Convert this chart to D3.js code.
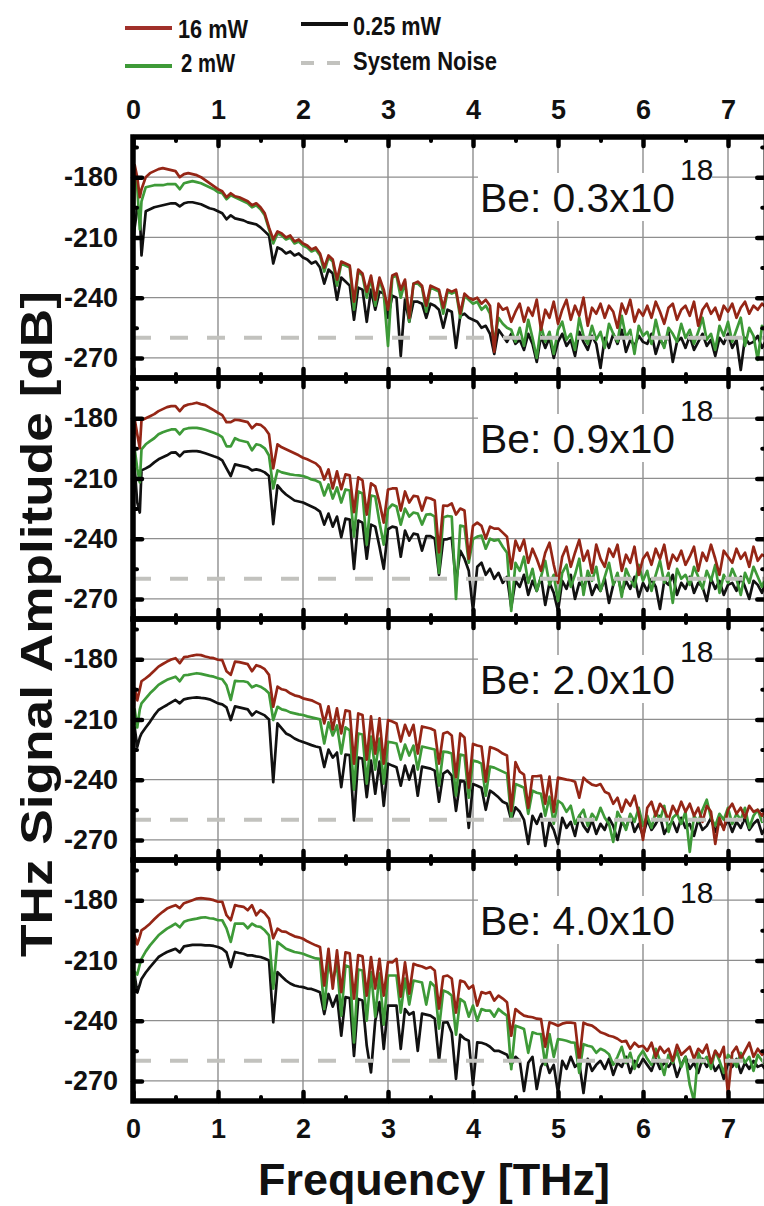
<!DOCTYPE html>
<html><head><meta charset="utf-8">
<script src="https://cdn.jsdelivr.net/npm/d3@7"></script>
<style>body{margin:0;background:#fff}svg{display:block}</style>
</head><body>
<svg id="chart" width="764" height="1206"></svg>
<script>
// ---------- DATA ----------
const freq = [0,0.02,0.05,0.08,0.1,
0.15,0.2,0.25,0.3,0.35,0.4,0.45,0.5,
0.55,0.6,0.65,0.7,0.75,0.8,0.85,0.9,0.95,1,
1.05,1.1,1.15,1.2,1.25,1.3,1.35,1.4,1.45,1.5,
1.55,1.6,1.65,1.7,1.75,1.8,1.85,1.9,1.95,2,
2.05,2.1,2.15,2.2,2.25,2.3,2.35,2.4,2.45,2.5,
2.55,2.6,2.65,2.7,2.75,2.8,2.85,2.9,2.95,3,
3.05,3.1,3.15,3.2,3.25,3.3,3.35,3.4,3.45,3.5,
3.55,3.6,3.65,3.7,3.75,3.8,3.85,3.9,3.95,4,
4.05,4.1,4.15,4.2,4.25,4.3,4.35,4.4,4.45,4.5,
4.55,4.6,4.65,4.7,4.75,4.8,4.85,4.9,4.95,5,
5.05,5.1,5.15,5.2,5.25,5.3,5.35,5.4,5.45,5.5,
5.55,5.6,5.65,5.7,5.75,5.8,5.85,5.9,5.95,6,
6.05,6.1,6.15,6.2,6.25,6.3,6.35,6.4,6.45,6.5,
6.55,6.6,6.65,6.7,6.75,6.8,6.85,6.9,6.95,7,
7.05,7.1,7.15,7.2,7.25,7.3,7.35,7.4,7.45];

const seriesNames = ["16 mW", "2 mW", "0.25 mW", "System Noise"];
const panelLabels = ["0.3", "0.9", "2.0", "4.0"];
const xTicks = [0,1,2,3,4,5,6,7];
const xMinor = [0.5,1.5,2.5,3.5,4.5,5.5,6.5];
const yTicks = [-180,-210,-240,-270];
const yMinor = [-165,-195,-225,-255];
const noiseLevel = -260;

// Be: 0.3e18
const red1 = [-211,-174,-180,-190,-186,
-180,-178,-177,-176,-175.5,-176,-176.5,-177,
-180,-178.5,-178,-178.5,-179,-180,-181.5,-183,-184.5,-186,
-187,-190,-188,-189.5,-190,-191,-192,-194,-193,-195,
-198,-205,-211,-207,-208,-210,-209,-212,-211,-213,
-214,-216,-215,-218,-225,-219,-221,-231,-222,-223,
-224,-242,-226,-228,-237,-229,-241,-230,-236,-246,
-229,-228,-236,-231,-250,-233,-232,-234,-244,-234,
-235,-236,-245,-236,-237,-236,-248,-238,-240,-241,
-240,-243,-241,-244,-267,-243,-246,-245,-252,-247,
-243,-252,-245,-249,-241,-256,-246,-250,-242,-253,
-246,-241,-251,-244,-249,-240,-254,-245,-248,-243,
-250,-244,-247,-255,-243,-248,-241,-252,-246,-249,
-244,-250,-242,-247,-253,-245,-243,-251,-246,-244,
-249,-242,-254,-246,-243,-248,-245,-251,-244,-247,
-243,-250,-245,-242,-248,-244,-246,-243,-245];
const green1 = [-213,-177,-185,-206,-192,
-185,-184.5,-184,-184,-184,-183.5,-183.5,-183.5,
-186,-183,-182.5,-182,-182.5,-183,-184,-185,-186,-187.5,
-188,-191,-189,-190,-191,-192,-193,-195,-194,-196,
-199,-206,-213,-208,-209,-211,-210,-213,-212,-214,
-215,-217,-216,-219,-227,-220,-222,-234,-223,-224,
-225,-246,-227,-229,-240,-230,-244,-231,-238,-264,
-230,-229,-240,-232,-252,-233,-233,-235,-247,-235,
-236,-237,-248,-237,-238,-237,-250,-239,-241,-243,
-242,-246,-244,-248,-262,-250,-253,-255,-256,-262,
-255,-264,-251,-260,-270,-254,-262,-257,-268,-256,
-252,-261,-258,-266,-250,-259,-263,-254,-261,-257,
-265,-253,-258,-262,-249,-260,-256,-268,-254,-259,
-257,-263,-251,-260,-265,-255,-258,-262,-253,-260,
-256,-263,-257,-250,-261,-258,-266,-254,-259,-252,
-262,-256,-250,-264,-255,-259,-271,-254,-257];
const black1 = [-215,-205,-196,-198,-219,
-197,-196,-195,-194.5,-194,-193.5,-193,-193,
-194.5,-193,-192.5,-192.5,-193,-193.5,-194.5,-195.5,-196,-197,
-198,-201,-199,-200.5,-201,-201.5,-202.5,-203,-203.5,-205,
-207,-209,-223,-215,-216,-218,-217,-219,-218,-220,
-221,-223,-222,-225,-233,-226,-228,-241,-230,-232,
-234,-251,-235,-236,-252,-236,-246,-237,-238,-250,
-239,-240,-269,-241,-252,-242,-242,-243,-250,-243,
-244,-246,-255,-246,-247,-265,-249,-248,-250,-251,
-252,-255,-254,-258,-268,-256,-259,-262,-258,-263,
-261,-266,-258,-263,-272,-259,-265,-260,-270,-262,
-258,-264,-261,-269,-257,-262,-266,-259,-263,-275,
-260,-265,-258,-263,-256,-267,-261,-264,-259,-262,
-263,-258,-268,-261,-264,-257,-272,-262,-260,-265,
-259,-266,-262,-258,-264,-261,-269,-260,-263,-258,
-265,-261,-276,-260,-263,-262,-259,-265,-261];

// Be: 0.9e18
const red2 = [-212,-180.5,-188,-195,-181,
-180,-179,-178,-176.5,-175.5,-174.5,-174,-174,
-176.5,-174,-173.2,-172.8,-172.3,-173,-173.5,-174.8,-176,-177.3,
-178.5,-182,-182,-180.8,-181,-181.5,-182,-185,-183,-183.3,
-185,-188,-205,-193,-194.5,-195.5,-196.5,-197.5,-198.5,-199.7,
-200.5,-201.5,-202.5,-204.6,-210.5,-205.5,-215,-206.5,-215.4,-208,
-208.5,-226.8,-209.5,-211,-228,-212.5,-214,-222,-232,-215.5,
-215,-215,-226,-216.5,-222,-218.7,-219,-226,-219.5,-220,
-221,-246.8,-223.5,-223.7,-222.5,-228,-225,-226,-250,-233.6,
-232,-233.6,-240,-234,-235,-235,-237,-239,-255,-241,
-246,-240.5,-252,-245,-250,-256,-247,-242,-253,-262,
-249,-244,-254,-247,-240.6,-251,-246,-257,-243,-250,
-254,-245,-249,-243,-256,-248,-252,-244,-258,-250,
-247,-253,-245,-250,-243,-255,-248,-251,-246,-253,
-249,-244,-256,-247,-251,-243,-250,-258,-246,-249,
-252,-245,-250,-247,-254,-244,-251,-248,-249];
const green2 = [-222,-195.5,-205,-212,-195.5,
-193,-191.4,-190,-188,-187,-186.3,-185.6,-185.6,
-188,-185.5,-185,-184.8,-184.8,-185.2,-185.8,-186.5,-187.3,-188.1,
-189.5,-194,-194,-190,-191,-191.5,-192,-196,-193,-193.5,
-195,-198.6,-215,-206,-207,-207.5,-208,-208.3,-208.5,-208.8,
-209.5,-210.5,-211,-212,-218.5,-213,-220,-214.5,-222,-215.5,
-216,-239,-216.5,-217.5,-243,-218.5,-219,-232,-243,-225.3,
-223,-224,-233,-225,-229,-227,-227.5,-233,-228,-227.8,
-229,-257,-229.5,-228.7,-229,-270,-233.5,-234,-252,-240.2,
-239,-238.5,-245,-240,-241,-240.5,-244,-247,-276,-252,
-256,-249,-262,-255,-266,-259,-251,-263,-258,-271,
-257,-253,-264,-258,-250,-268,-256,-261,-254,-266,
-259,-252,-263,-257,-269,-255,-260,-264,-253,-261,
-256,-266,-258,-251,-262,-257,-272,-255,-260,-258,
-263,-254,-259,-265,-256,-261,-253,-267,-258,-262,
-255,-260,-268,-257,-262,-254,-259,-264,-258];
const black2 = [-225,-205,-222,-227,-206,
-205,-203.8,-202,-200.5,-199.5,-198.5,-197.2,-197,
-199,-196.8,-196.5,-196.4,-196.4,-196.8,-197.5,-198.2,-199,-199.7,
-201,-205,-208.8,-203,-203.5,-204,-204.5,-206,-205.5,-206,
-207,-208.8,-232.8,-213.5,-216,-218,-219.5,-221,-221.5,-222,
-223,-224,-225,-226.5,-233,-227.5,-234,-229,-239.3,-230,
-230.5,-255,-231,-232,-250,-233,-234,-244,-255,-235.3,
-234,-234.5,-249,-236,-241,-237.5,-238,-246,-238.7,-238.7,
-240,-258,-240.5,-240.2,-239.5,-262,-246,-250,-256,-276,
-254,-252,-258,-255,-260,-257,-262,-259,-274,-261,
-264,-258,-268,-261,-266,-259,-273,-262,-267,-276,
-261,-265,-258,-270,-262,-264,-259,-268,-263,-266,
-260,-272,-263,-258,-267,-261,-265,-259,-269,-262,
-266,-260,-264,-275,-261,-263,-258,-268,-262,-265,
-259,-267,-262,-264,-271,-260,-265,-261,-268,-263,
-262,-266,-259,-264,-270,-261,-263,-267,-260];

// Be: 2.0e18
const red3 = [-210,-194.5,-200.5,-195,-191,
-189.5,-187.8,-185.8,-183.7,-182.4,-181.2,-180.2,-179.5,
-182,-179,-178.7,-178.2,-177.8,-178,-178.7,-179.2,-179.5,-180.3,
-180.5,-186,-187.8,-181.2,-181.5,-182,-182.5,-186,-183,-183.7,
-185,-187.8,-203.7,-193.7,-195,-195.5,-197,-198,-198.5,-199.5,
-200,-200.5,-201.5,-202.5,-212,-203.5,-215,-204.5,-217,-205.5,
-206,-232,-207,-207.8,-230,-208.5,-227,-209.5,-232,-210.3,
-211,-212,-221,-212.7,-218,-212.7,-227,-213.5,-214,-214.5,
-215.5,-232,-217,-216.3,-218,-238.8,-217,-219,-244,-222.2,
-223,-223.5,-241,-223.8,-224.5,-225.5,-227,-228,-255.5,-231.3,
-236,-237.5,-254,-238.3,-238.3,-238,-252,-238.5,-256,-239,
-239.5,-240,-240.3,-241,-249,-239,-241,-242.5,-243,-242.2,
-246,-247,-252,-249,-256,-250,-253,-248,-257,-270,
-254,-251,-258,-252,-255,-260,-253,-257,-251,-256,
-252,-258,-254,-261,-253,-256,-272,-259,-265,-255,
-252,-257,-254,-259,-253,-256,-255,-258,-254];
const green3 = [-225,-205,-214,-205,-202,
-199.5,-197,-195,-192.8,-191.5,-190.3,-189.5,-188.7,
-191,-188,-187.8,-187.4,-187,-187.3,-187.8,-188.3,-188.7,-189.5,
-190,-193,-200.3,-190.8,-191,-191,-191.5,-194,-193,-193.7,
-195,-197,-210.3,-203.7,-205,-205.5,-206.5,-207,-207.5,-207.8,
-208.5,-209,-209.5,-210,-222,-211.5,-218,-213,-227,-214,
-215.5,-245,-217,-217.5,-242,-218.5,-235,-219.5,-242,-221.2,
-221.5,-222,-230,-222.5,-228,-223,-235,-223.5,-224,-224.5,
-225,-243,-226,-226.3,-227,-248,-227.5,-228,-249,-230.5,
-231,-232,-248,-233.5,-234,-235,-236,-237,-259,-242.2,
-243,-244,-257,-245.5,-246.5,-247,-258,-248.5,-262,-250.5,
-252,-256,-253,-262,-258,-255,-263,-257,-260,-254,
-259,-262,-271,-256,-260,-265,-257,-261,-254,-263,
-258,-264,-256,-260,-253,-266,-259,-257,-262,-256,
-276,-258,-261,-255,-250,-259,-263,-257,-260,-254,
-262,-257,-260,-254,-264,-258,-255,-261,-257];
const black3 = [-227,-214,-223.7,-219,-217,
-214,-211.2,-208,-205.3,-204,-202.8,-201.5,-200.3,
-202,-200,-199.5,-199.2,-199,-199.3,-199.5,-200,-201,-202,
-202.5,-204,-210.3,-203.5,-204,-204.5,-205,-208,-206,-207,
-208,-210,-241.2,-212,-214.5,-217,-218,-219.5,-220.5,-221.2,
-222,-222.8,-223.5,-224,-233.7,-225,-229,-226.5,-243.7,-227.5,
-227.8,-260.3,-229,-229.5,-248.7,-230.5,-247,-231,-253,-232,
-233,-233.8,-243,-233,-240,-233,-248,-233.5,-234,-234.5,
-235.5,-251,-237,-235.5,-238,-255.5,-240.5,-241,-264,-242.2,
-243,-244,-255,-245.5,-247,-248.8,-251,-252,-260,-253.8,
-256,-260,-272,-258,-262,-257,-273,-261,-265,-272,
-259,-264,-261,-268,-258,-263,-266,-260,-267,-262,
-265,-259,-263,-270,-261,-264,-258,-266,-262,-268,
-260,-265,-262,-258,-267,-263,-261,-266,-259,-264,
-262,-268,-260,-265,-263,-259,-266,-261,-264,-260,
-266,-261,-264,-259,-265,-262,-260,-267,-263];

// Be: 4.0e18
const red4 = [-209,-197.5,-202,-198,-195,
-193.5,-191.7,-189.5,-187.5,-185.8,-184.2,-183.3,-182.5,
-184,-181.5,-180.8,-180,-179.2,-179,-179.2,-179.5,-180,-180.8,
-180.8,-187.5,-190,-182.5,-183,-183.3,-185,-182.5,-187.5,-185,
-186.5,-189.2,-199,-194.2,-195.5,-195.8,-197,-198,-198.5,-199.2,
-200.5,-201.5,-202.5,-203.3,-222.5,-204.2,-224,-205,-225.8,-206,
-206.5,-229,-207.3,-208,-227.5,-208.3,-224,-209.2,-227.5,-210.8,
-211,-209.2,-228,-211,-226.5,-211.7,-212.5,-213,-214,-213.3,
-215,-234,-218,-217.5,-219,-236,-220,-220.8,-224,-222.5,
-232.5,-225.8,-226.5,-225.8,-230,-227.5,-229,-230.8,-247.5,-234.2,
-236,-237.5,-238,-238.3,-239,-239.2,-253,-240.8,-241.5,-242.5,
-241.5,-241,-241,-241.3,-260,-241,-242,-242.5,-244,-245.8,
-246.5,-247.5,-248,-249,-250.5,-250,-254,-251,-253,-252.5,
-255,-251,-258,-253,-256,-254,-260,-252,-257,-255,
-253,-259,-254,-256,-252,-261,-255,-258,-253,-277,
-256,-253,-259,-255,-251,-258,-254,-257,-255];
const green4 = [-234,-215.8,-217,-212,-209.2,
-205.5,-202.5,-200,-197.5,-195.8,-194.2,-193,-191.7,
-193.5,-190.8,-190,-189.6,-189.2,-188.7,-188.5,-189,-189.2,-190,
-190,-194,-200.8,-191.7,-191.7,-191.7,-194,-191.7,-193,-193.3,
-195,-197.5,-224,-200.8,-202.5,-204.2,-205,-205.8,-206.2,-206.7,
-207.5,-208.3,-209,-209.2,-234.2,-210.8,-220,-211.7,-237.5,-212.5,
-213.3,-250.8,-214.5,-215,-240,-215.8,-238,-216.5,-242,-217.5,
-217.5,-217.5,-236,-219,-232,-220,-220.5,-221,-232,-220.8,
-223,-244,-225,-225.8,-227.5,-247,-229.2,-230.8,-238,-232.5,
-240,-234.2,-235,-235,-238,-234.2,-236,-237.5,-264.2,-242.5,
-243.3,-244.2,-256,-245.8,-246.5,-246.7,-262,-246.7,-258,-249.2,
-249.5,-250,-250.8,-251,-266,-251.7,-252.5,-253,-256,-254,
-255,-256.7,-262,-258,-253,-261,-256,-264,-258,-255,
-259,-262,-254,-260,-267,-257,-261,-255,-263,-258,
-272,-280,-256,-261,-258,-264,-255,-260,-266,-257,
-259,-263,-256,-261,-258,-265,-257,-260,-262];
const black4 = [-230.8,-217.5,-226,-222,-219.2,
-216,-213.3,-210.8,-208.3,-207,-205.8,-205,-204.2,
-206,-203,-202.6,-202.3,-202.2,-202.3,-202.5,-202.5,-202.8,-203.3,
-204.2,-206,-213.3,-205.8,-206.3,-206.7,-207.5,-207.5,-208,-208.3,
-209,-210,-240.8,-215.8,-218,-220,-221.5,-222.5,-223,-223.3,
-224,-224.2,-225,-225.8,-236.7,-226.7,-233,-227.5,-247.5,-228.3,
-228.8,-257.5,-229.2,-230,-252.5,-265.8,-240,-230.8,-254,-232.5,
-232.5,-232.5,-254,-234.2,-237,-235.8,-255,-236.5,-237,-237.5,
-239,-260,-241,-240.8,-246,-269,-247,-249,-250,-272,
-250.8,-251,-251.7,-253,-255,-255,-256,-257,-262,-258,
-260,-275,-261,-258,-274,-263,-259,-266,-262,-276,
-260,-264,-258,-263,-261,-276,-259,-265,-262,-260,
-264,-259,-267,-261,-263,-258,-266,-260,-263,-259,
-262,-265,-259,-264,-261,-263,-260,-268,-262,-258,
-264,-261,-266,-259,-263,-260,-265,-262,-269,-261,
-263,-259,-266,-261,-264,-260,-263,-262,-265];

const panels = [
  {label: panelLabels[0], red: red1, green: green1, black: black1},
  {label: panelLabels[1], red: red2, green: green2, black: black2},
  {label: panelLabels[2], red: red3, green: green3, black: black3},
  {label: panelLabels[3], red: red4, green: green4, black: black4}
];

// ---------- DRAW ----------
const FONT = "'Liberation Sans', Arial, Helvetica, sans-serif";
const C = {red: "#952616", green: "#3e9a38", black: "#111111", noise: "#c2c2be", grid: "#8e8e8e"};
const svg = d3.select("#chart");
const X0 = 133, X1 = 766.25;
const x = d3.scaleLinear().domain([0, 7.45]).range([X0, X1]);
const PT = 137, PH = 241;

function styleAxis(sel, sw) {
  sel.select(".domain").remove();
  sel.selectAll(".tick line").attr("stroke", "#000").attr("stroke-width", sw).attr("stroke-linecap", "round");
  sel.selectAll(".tick text").attr("font-family", FONT).attr("font-weight", "bold")
     .attr("font-size", 27).attr("fill", "#111");
}

panels.forEach((p, i) => {
  const top = PT + PH * i, bottom = top + PH;
  const y = d3.scaleLinear().domain([-280, -160]).range([bottom, top]);
  const g = svg.append("g");
  const cid = "clip" + i;
  svg.append("clipPath").attr("id", cid).append("rect")
     .attr("x", X0).attr("y", top).attr("width", X1 - X0).attr("height", PH);

  // grid
  g.selectAll(".vg").data(xTicks.filter(t => t > 0)).join("line")
    .attr("x1", d => x(d)).attr("x2", d => x(d)).attr("y1", top).attr("y2", bottom)
    .attr("stroke", C.grid).attr("stroke-width", 1.4);
  g.selectAll(".hg").data(yTicks).join("line")
    .attr("x1", X0).attr("x2", X1).attr("y1", d => y(d)).attr("y2", d => y(d))
    .attr("stroke", C.grid).attr("stroke-width", 1.4);

  // label
  g.append("rect").attr("x", 478).attr("y", top + 36).attr("width", 234).attr("height", 48).attr("fill", "#fff");
  g.append("text").attr("x", 480).attr("y", top + 75).attr("font-family", FONT).attr("font-size", 41)
    .attr("textLength", 195).attr("lengthAdjust", "spacingAndGlyphs")
    .attr("fill", "#111").text("Be: " + p.label + "x10");
  g.append("text").attr("x", 680).attr("y", top + 43).attr("font-family", FONT).attr("font-size", 30)
    .attr("fill", "#111").text("18");

  // traces
  const line = d3.line().defined((d, j) => freq[j] !== undefined).x((d, j) => x(freq[j])).y(d => y(d));
  const tg = g.append("g").attr("clip-path", `url(#${cid})`);
  [["black", p.black], ["green", p.green], ["red", p.red]].forEach(([c, arr]) => {
    tg.append("path").datum(arr).attr("d", line).attr("fill", "none")
      .attr("stroke", C[c]).attr("stroke-width", 2.7).attr("stroke-linejoin", "round");
  });
  tg.append("line").attr("x1", x(0)).attr("x2", x(7.45)).attr("y1", y(noiseLevel)).attr("y2", y(noiseLevel))
    .attr("stroke", C.noise).attr("stroke-width", 4).attr("stroke-dasharray", "18 19");

  // ticks (inward)
  g.append("g").attr("transform", `translate(0,${top})`).call(d3.axisBottom(x).tickValues(xTicks).tickSize(9).tickFormat("")).call(s => styleAxis(s, 4.5));
  g.append("g").attr("transform", `translate(0,${top})`).call(d3.axisBottom(x).tickValues(xMinor).tickSize(4).tickFormat("")).call(s => styleAxis(s, 4));
  g.append("g").attr("transform", `translate(0,${bottom})`).call(d3.axisTop(x).tickValues(xTicks).tickSize(9).tickFormat("")).call(s => styleAxis(s, 4.5));
  g.append("g").attr("transform", `translate(0,${bottom})`).call(d3.axisTop(x).tickValues(xMinor).tickSize(4).tickFormat("")).call(s => styleAxis(s, 4));
  g.append("g").attr("transform", `translate(${X0},0)`).call(d3.axisRight(y).tickValues(yTicks).tickSize(9).tickFormat("")).call(s => styleAxis(s, 4.5));
  g.append("g").attr("transform", `translate(${X0},0)`).call(d3.axisRight(y).tickValues(yMinor).tickSize(4).tickFormat("")).call(s => styleAxis(s, 4));
  g.append("g").attr("transform", `translate(${X1},0)`).call(d3.axisLeft(y).tickValues(yTicks).tickSize(9).tickFormat("")).call(s => styleAxis(s, 4.5));
  g.append("g").attr("transform", `translate(${X1},0)`).call(d3.axisLeft(y).tickValues(yMinor).tickSize(4).tickFormat("")).call(s => styleAxis(s, 4));

  // y labels
  g.append("g").attr("transform", `translate(${X0},0)`)
    .call(d3.axisLeft(y).tickValues(yTicks).tickSize(0).tickPadding(15).tickFormat(d => String(d)))
    .call(s => styleAxis(s, 0));

  // frame
  g.append("rect").attr("x", X0).attr("y", top).attr("width", X1 - X0).attr("height", PH)
    .attr("fill", "none").attr("stroke", "#000").attr("stroke-width", 5.5);

  if (i === 0) {
    g.append("g").attr("transform", `translate(0,${top})`)
      .call(d3.axisTop(x).tickValues(xTicks).tickSize(0).tickPadding(18).tickFormat(d => String(d)))
      .call(s => styleAxis(s, 0));
  }
  if (i === panels.length - 1) {
    g.append("g").attr("transform", `translate(0,${bottom})`)
      .call(d3.axisBottom(x).tickValues(xTicks).tickSize(0).tickPadding(18).tickFormat(d => String(d)))
      .call(s => styleAxis(s, 0));
  }
});

// axis titles
svg.append("text").attr("x", 258).attr("y", 1195).attr("font-family", FONT).attr("font-weight", "bold")
  .attr("font-size", 44).attr("textLength", 352).attr("lengthAdjust", "spacingAndGlyphs").attr("fill", "#111")
  .text("Frequency [THz]");
svg.append("text").attr("transform", "translate(52,624) rotate(-90)").attr("text-anchor", "middle")
  .attr("font-family", FONT).attr("font-weight", "bold").attr("font-size", 44)
  .attr("textLength", 666).attr("lengthAdjust", "spacingAndGlyphs").attr("fill", "#111")
  .text("THz Signal Amplitude [dB]");

// legend
const legend = [
  {name: seriesNames[0], color: "#a0302a", x1: 125, x2: 172, ly: 28, tx: 178, ty: 38, tl: 70, dash: null},
  {name: seriesNames[1], color: "#3e9a38", x1: 125, x2: 172, ly: 66, tx: 181, ty: 72, tl: 54, dash: null},
  {name: seriesNames[2], color: "#111111", x1: 301, x2: 348, ly: 24, tx: 353, ty: 35, tl: 88, dash: null},
  {name: seriesNames[3], color: "#c2c2be", x1: 301, x2: 341, ly: 63, tx: 353, ty: 70, tl: 144, dash: "13 13"}
];
const lg = svg.append("g");
legend.forEach(d => {
  lg.append("line").attr("x1", d.x1).attr("x2", d.x2).attr("y1", d.ly).attr("y2", d.ly)
    .attr("stroke", d.color).attr("stroke-width", 4).attr("stroke-dasharray", d.dash);
  lg.append("text").attr("x", d.tx).attr("y", d.ty).attr("font-family", FONT).attr("font-weight", "bold")
    .attr("font-size", 26).attr("textLength", d.tl).attr("lengthAdjust", "spacingAndGlyphs").attr("fill", "#111")
    .text(d.name);
});
</script>
</body></html>
